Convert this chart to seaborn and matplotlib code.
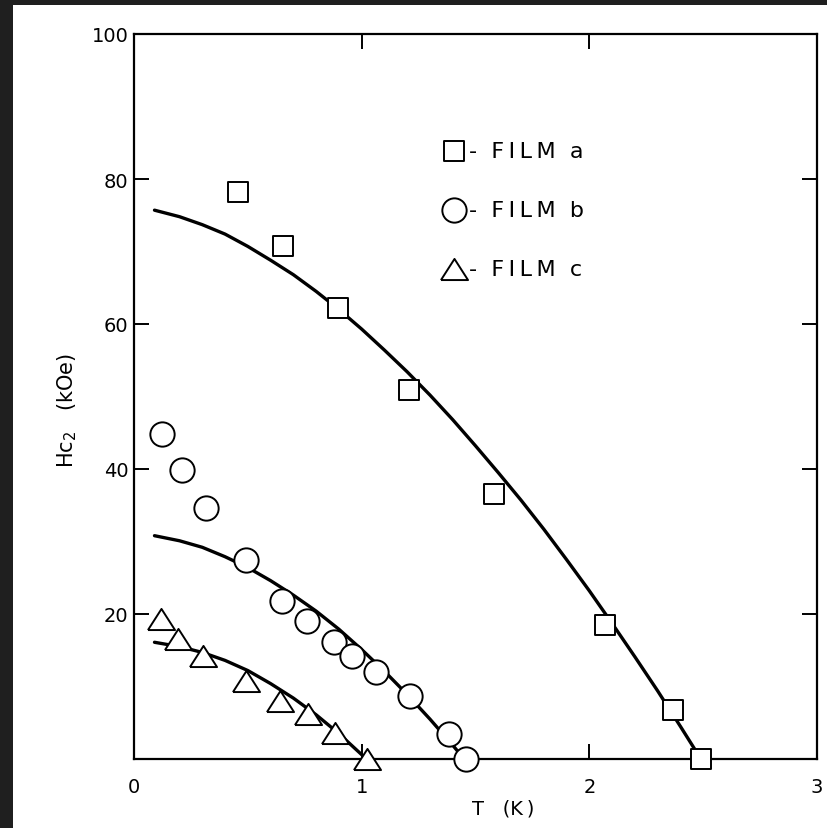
import matplotlib
matplotlib.use("Agg")
import matplotlib.pyplot as plt
from matplotlib.markers import MarkerStyle
from matplotlib.patches import Rectangle
import seaborn as sns
import pandas as pd

# Measured upper critical field Hc2 (kOe) versus temperature T (K)
t_film_a = [0.457, 0.655, 0.896, 1.208, 1.580, 2.067, 2.369, 2.490]
h_film_a = [78.2, 70.7, 62.2, 50.9, 36.6, 18.5, 6.8, 0.0]

t_film_b = [0.122, 0.210, 0.316, 0.493, 0.651, 0.761, 0.878, 0.959, 1.062, 1.211, 1.385, 1.458]
h_film_b = [44.8, 39.8, 34.6, 27.5, 21.8, 19.1, 16.1, 14.2, 12.0, 8.7, 3.4, 0.0]

t_film_c = [0.119, 0.194, 0.304, 0.492, 0.643, 0.763, 0.885, 1.025]
h_film_c = [19.3, 16.6, 14.2, 10.8, 8.0, 6.2, 3.6, 0.0]

# Theoretical Hc2(T) curves, traced along their length
t_fit_a = [0.09, 0.2, 0.3, 0.4, 0.5, 0.6, 0.7, 0.8, 0.9, 1.0, 1.1, 1.2, 1.3,
           1.4, 1.5, 1.6, 1.7, 1.8, 1.9, 2.0, 2.1, 2.2, 2.3, 2.4, 2.49]
h_fit_a = [75.7, 74.8, 73.7, 72.4, 70.7, 68.8, 66.8, 64.5, 62.0, 59.3, 56.4, 53.4, 50.2,
           46.8, 43.2, 39.5, 35.7, 31.7, 27.5, 23.2, 18.7, 14.1, 9.4, 4.5, 0.0]

t_fit_b = [0.09, 0.2, 0.3, 0.4, 0.5, 0.6, 0.7, 0.8, 0.9, 1.0, 1.1, 1.2, 1.3, 1.4, 1.45]
h_fit_b = [30.8, 30.1, 29.2, 27.9, 26.4, 24.6, 22.6, 20.4, 17.9, 15.1, 12.1, 8.9, 5.5, 1.9, 0.0]

t_fit_c = [0.09, 0.2, 0.3, 0.4, 0.5, 0.6, 0.7, 0.8, 0.9, 1.0, 1.02]
h_fit_c = [16.1, 15.5, 14.7, 13.6, 12.2, 10.4, 8.4, 6.1, 3.5, 0.6, 0.0]

x_ticks = [0, 1, 2, 3]
x_tick_labels = ["0", "1", "2", "3"]
y_ticks = [20, 40, 60, 80, 100]
y_tick_labels = ["20", "40", "60", "80", "100"]
legend_labels = ["-  F\u2009I\u2009L\u2009M  a",
                 "-  F\u2009I\u2009L\u2009M  b",
                 "-  F\u2009I\u2009L\u2009M  c"]

sns.set_theme(style="white")
plt.rcParams["font.family"] = ["DejaVu Sans"]

fig = plt.figure(figsize=(8.27, 8.29), dpi=100)
fig.patch.set_facecolor("white")
ax = fig.add_axes([134 / 827, 1 - 760 / 829, (817 - 134) / 827, (760 - 35) / 829])
ax.set_facecolor("white")

line_kw = dict(color="black", linewidth=2.4, zorder=2)
for t, h in [(t_fit_a, h_fit_a), (t_fit_b, h_fit_b), (t_fit_c, h_fit_c)]:
    sns.lineplot(data=pd.DataFrame({"T": t, "H": h}), x="T", y="H", ax=ax,
                 sort=False, estimator=None, **line_kw)

tri = MarkerStyle([(-1.0, -0.78), (1.0, -0.78), (0.0, 0.78), (-1.0, -0.78)])
series = [
    (t_film_a, h_film_a, "s", 14.5, legend_labels[0]),
    (t_film_b, h_film_b, "o", 17.5, legend_labels[1]),
    (t_film_c, h_film_c, tri, 19.5, legend_labels[2]),
]
for t, h, m, size, lab in series:
    sns.scatterplot(data=pd.DataFrame({"T": t, "H": h}), x="T", y="H", ax=ax,
                    marker=m, s=size ** 2, facecolor="white", edgecolor="black",
                    linewidth=1.4, zorder=3, label=lab, clip_on=False)

ax.set_xlim(0, 3)
ax.set_ylim(0, 100)
ax.set_xticks(x_ticks)
ax.set_xticklabels(x_tick_labels)
ax.set_yticks(y_ticks)
ax.set_yticklabels(y_tick_labels)
ax.tick_params(axis="both", direction="in", length=11, width=1.4, color="black",
               bottom=True, left=True, top=True, right=True,
               labelsize=14, labelcolor="black")
ax.tick_params(axis="x", pad=13)
ax.tick_params(axis="y", pad=4)
for sp in ax.spines.values():
    sp.set_visible(True)
    sp.set_color("black")
    sp.set_linewidth(1.6)

ax.set_xlabel("T   (K\u2009)", fontsize=14, color="black")
ax.xaxis.set_label_coords((503 - 134) / (817 - 134), -(809 - 760) / (760 - 35))
ax.xaxis.label.set_va("center")
ax.set_ylabel("Hc$_2$   (kOe)", fontsize=15, color="black")
ax.yaxis.set_label_coords(-(134 - 67) / (817 - 134), (760 - 410) / (760 - 35))
ax.yaxis.label.set_va("center")

leg = ax.legend(loc="upper left", bbox_to_anchor=(432 / 827, 1 - 131 / 829),
                bbox_transform=fig.transFigure, frameon=False, fontsize=16,
                handlelength=0.95, handletextpad=0.2, labelspacing=1.75,
                borderpad=0, scatterpoints=1)
for txt in leg.get_texts():
    txt.set_color("black")

# dark scan margin along the top and left edges
fig.patches.append(Rectangle((0, 1 - 6 / 829), 1, 6 / 829, transform=fig.transFigure,
                             facecolor="#1f1f1f", edgecolor="none", zorder=10))
fig.patches.append(Rectangle((0, 0), 13 / 827, 1, transform=fig.transFigure,
                             facecolor="#1f1f1f", edgecolor="none", zorder=10))

fig.savefig("out.png", dpi=100)
